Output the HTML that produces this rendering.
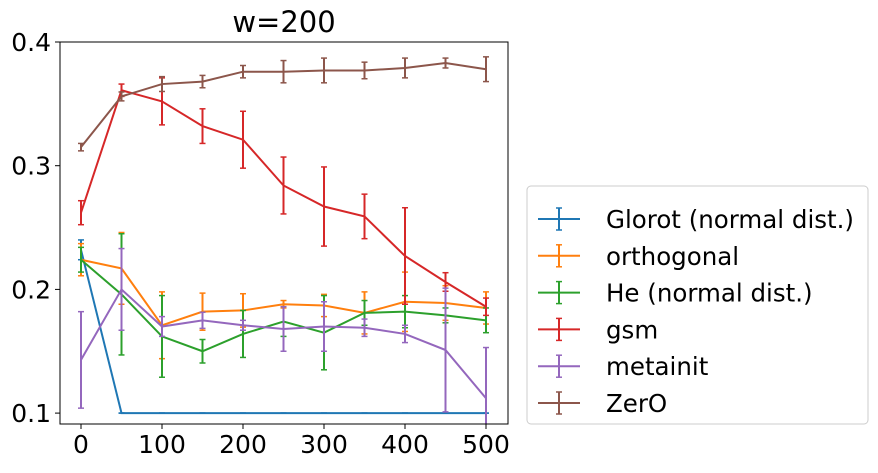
<!DOCTYPE html>
<html><head><meta charset="utf-8"><style>
body{margin:0;background:#fff;font-family:"DejaVu Sans","Liberation Sans",sans-serif}
</style></head><body>
<svg id="c" width="878" height="469" xmlns="http://www.w3.org/2000/svg" font-family="DejaVu Sans, Liberation Sans, sans-serif"></svg>
<script>
const xs=[0,50,100,150,200,250,300,350,400,450,500];
const names=["Glorot (normal dist.)","orthogonal","He (normal dist.)","gsm","metainit","ZerO"];
const colors=["#1f77b4","#ff7f0e","#2ca02c","#d62728","#9467bd","#8c564b"];
const glorotV=[0.232,0.1,0.1,0.1,0.1,0.1,0.1,0.1,0.1,0.1,0.1];
const glorotE=[0.008,0,0,0,0,0,0,0,0,0,0];
const orthoV=[0.224,0.217,0.171,0.182,0.183,0.188,0.187,0.181,0.190,0.189,0.185];
const orthoE=[0.013,0.029,0.027,0.015,0.0135,0.003,0.009,0.017,0.024,0.014,0.013];
const heV=[0.224,0.196,0.162,0.150,0.164,0.174,0.165,0.181,0.182,0.179,0.175];
const heE=[0.01,0.049,0.033,0.0095,0.019,0.012,0.030,0.01,0.013,0.006,0.010];
const gsmV=[0.262,0.361,0.352,0.332,0.321,0.284,0.267,0.259,0.227,0.206,0.186];
const gsmE=[0.0097,0.005,0.019,0.014,0.023,0.023,0.032,0.018,0.039,0.0075,0.007];
const metaV=[0.143,0.2,0.170,0.175,0.171,0.168,0.170,0.169,0.164,0.151,0.112];
const metaE=[0.039,0.033,0.008,0.0065,0.004,0.018,0.02,0.007,0.007,0.05,0.041];
const zeroV=[0.315,0.356,0.366,0.368,0.376,0.376,0.377,0.377,0.379,0.383,0.378];
const zeroE=[0.003,0.0036,0.006,0.005,0.005,0.009,0.010,0.0067,0.008,0.004,0.01];
const yTicks=[0.1,0.2,0.3,0.4];
const xTicks=[0,100,200,300,400,500];
const series=[[glorotV,glorotE],[orthoV,orthoE],[heV,heE],[gsmV,gsmE],[metaV,metaE],[zeroV,zeroE]];
const svg=document.getElementById('c');
const NS="http://www.w3.org/2000/svg";
const X=v=>81+v*0.81;
const Y=v=>42+(0.4-v)*1237;
function mk(t,a,p){const e=document.createElementNS(NS,t);for(const k in a)e.setAttribute(k,a[k]);(p||svg).appendChild(e);return e;}
const defs=mk('defs',{});
const cp=mk('clipPath',{id:'pc'},defs);
mk('rect',{x:60,y:42,width:448,height:382},cp);
const title=mk('text',{x:284,y:32,'font-size':29,'text-anchor':'middle',fill:'#000'});title.textContent='w=200';


yTicks.forEach(t=>{const y=Y(t);
 mk('line',{x1:55,x2:60,y1:y,y2:y,stroke:'#000'});
 const tx=mk('text',{x:51,y:y+9,'font-size':25,'text-anchor':'end'});tx.textContent=t.toFixed(1);
 
 });
xTicks.forEach(t=>{const x=X(t);
 mk('line',{x1:x,x2:x,y1:424,y2:429,stroke:'#000'});
 const tx=mk('text',{x:x,y:453,'font-size':25,'text-anchor':'middle'});tx.textContent=t;
 
 });
series.forEach((s,i)=>{const g=mk('g',{'clip-path':'url(#pc)'});
 
 
 const [v,e]=s;
 mk('polyline',{points:xs.map((x,j)=>X(x)+','+Y(v[j])).join(' '),fill:'none',stroke:colors[i],'stroke-width':2},g);
 xs.forEach((x,j)=>{const cx=X(x),t=Y(v[j]+e[j]),b=Y(v[j]-e[j]);
  mk('line',{x1:cx,x2:cx,y1:t,y2:b,stroke:colors[i],'stroke-width':2},g);
  mk('line',{x1:cx-3,x2:cx+3,y1:t,y2:t,stroke:colors[i],'stroke-width':1.5},g);
  mk('line',{x1:cx-3,x2:cx+3,y1:b,y2:b,stroke:colors[i],'stroke-width':1.5},g);});
});
const frame=mk('rect',{x:60,y:42,width:448,height:382,fill:'none',stroke:'#000','stroke-width':1});


const lg=mk('g',{});


mk('rect',{x:527,y:186,width:341,height:238,rx:4,fill:'#fff',stroke:'#ccc'},lg);
names.forEach((n,i)=>{const y=219+i*36.8;const g=mk('g',{},lg);
 
 
 mk('line',{x1:538,x2:580,y1:y,y2:y,stroke:colors[i],'stroke-width':2},g);
 mk('line',{x1:559,x2:559,y1:y-11,y2:y+11,stroke:colors[i],'stroke-width':2},g);
 mk('line',{x1:556,x2:562,y1:y-11,y2:y-11,stroke:colors[i],'stroke-width':1.5},g);
 mk('line',{x1:556,x2:562,y1:y+11,y2:y+11,stroke:colors[i],'stroke-width':1.5},g);
 const t=mk('text',{x:606,y:y+9,'font-size':24.5},g);t.textContent=n;});
</script>
</body></html>
